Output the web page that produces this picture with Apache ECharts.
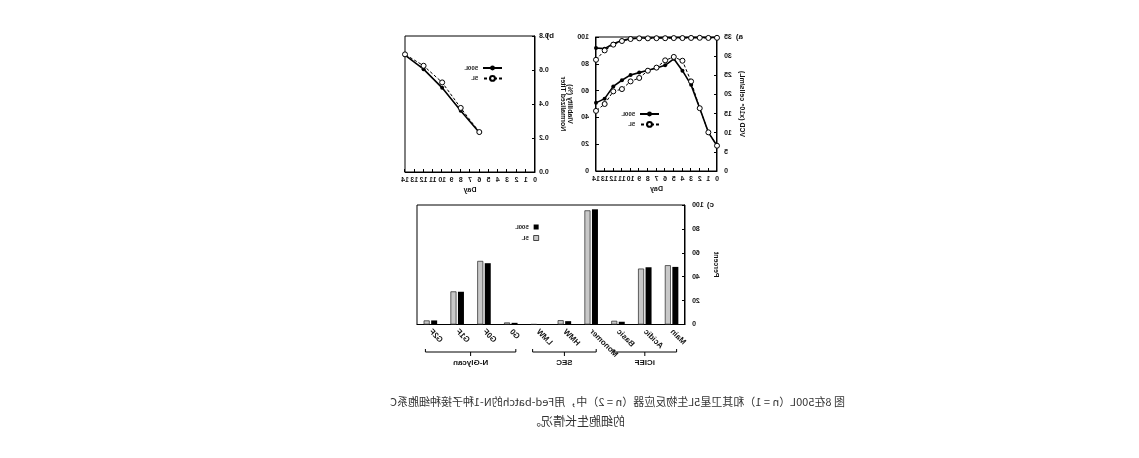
<!DOCTYPE html>
<html>
<head>
<meta charset="utf-8">
<script src="https://cdn.jsdelivr.net/npm/echarts@6/dist/echarts.min.js"></script>
<style>
html, body { margin: 0; padding: 0; background: #fff; }
/* the reference picture is mirrored left-right, so the whole stage is flipped */
#stage { position: relative; width: 1139px; height: 458px; overflow: hidden; transform: scaleX(-1); }
#chart { position: absolute; left: 0; top: 0; width: 1139px; height: 390px; }
.cap {
  position: absolute; white-space: nowrap;
  font-family: "Noto Sans CJK SC", sans-serif; color: #333; line-height: 19px;
}
.cap1 { left: 294px; top: 392px; font-size: 11px; }
.cap2 { left: 514px; top: 411px; font-size: 12px; }
</style>
</head>
<body>
<div id="stage">
  <div id="chart"></div>
  <div class="cap cap1">图 8在500L（n = 1）和其卫星5L生物反应器（n = 2）中，用Fed-batch的N-1种子接种细胞系C</div>
  <div class="cap cap2">的细胞生长情况。</div>
</div>
<script>
// a) 活细胞密度与活率
const days = [0, 1, 2, 3, 4, 5, 6, 7, 8, 9, 10, 11, 12, 13, 14]
const vcd500 = [6.6, 10.1, 16.4, 22.5, 26.2, 29.3, 27.6, 26.9, 26.3, 25.7, 25.1, 23.7, 22.1, 18.9, 17.8]
const vcd5 = [6.6, 10.1, 16.4, 23.4, 28.8, 29.8, 28.9, 27.0, 26.2, 24.3, 23.4, 21.4, 20.8, 17.5, 15.7]
const via500 = [99.7, 99.6, 99.7, 99.6, 99.6, 99.5, 99.5, 99.4, 99.3, 99.2, 98.8, 97.3, 95.0, 91.3, 91.8]
const via5 = [99.4, 99.3, 99.4, 99.3, 99.2, 99.2, 99.1, 99.1, 99.0, 99.0, 98.5, 97.0, 94.3, 90.0, 83.0]

// b) 归一化滴度
const titerDays = [6, 8, 10, 12, 14]
const titer500 = [0.232, 0.36, 0.495, 0.605, 0.688]
const titer5 = [0.235, 0.377, 0.527, 0.625, 0.692]

// c) 质量属性
const categories = ['Main', 'Acidic', 'Basic', 'Monomer', 'HMW', 'LMW', 'G0', 'G0F', 'G1F', 'G2F']
const bar500 = [48.2, 47.9, 2.3, 96.4, 2.8, 0.2, 1.4, 51.3, 27.4, 3.4]
const bar5 = [49.6, 46.8, 3.1, 95.5, 3.6, 0.2, 1.7, 53.2, 27.7, 3.4]
const groups = [
  { name: 'iCIEF', from: 'Main', to: 'Basic' },
  { name: 'SEC', from: 'Monomer', to: 'LMW' },
  { name: 'N-Glycan', from: 'G0', to: 'G2F' }
]

const FONT = '"Liberation Sans", Arial, sans-serif'
const txt = { fontFamily: FONT, fontWeight: 'bold', color: '#111' }

function axisCommon(extra) {
  return Object.assign({
    axisLine: { show: true, onZero: false, lineStyle: { color: '#000', width: 1 } },
    axisTick: { show: true, inside: true, length: 3, lineStyle: { color: '#000' } },
    splitLine: { show: false },
    axisLabel: Object.assign({ fontSize: 7, margin: 7 }, txt),
    nameTextStyle: Object.assign({ fontSize: 7 }, txt),
    nameLocation: 'middle'
  }, extra)
}

function dayAxis(gridIndex) {
  return axisCommon({
    type: 'value', gridIndex, min: 0, max: 14, interval: 1,
    name: 'Day', nameGap: 15,
    axisLabel: Object.assign({ fontSize: 7, margin: 5 }, txt)
  })
}

const solid = (name, data, x, y) => ({
  name, type: 'line', xAxisIndex: x, yAxisIndex: y, data,
  symbol: 'circle', symbolSize: 4,
  itemStyle: { color: '#000' },
  lineStyle: { color: '#000', width: 1.6 }
})
const dashed = (name, data, x, y) => ({
  name, type: 'line', xAxisIndex: x, yAxisIndex: y, data,
  symbol: 'circle', symbolSize: 5,
  itemStyle: { color: '#fff', borderColor: '#000', borderWidth: 1 },
  lineStyle: { color: '#000', width: 1, type: [3, 2] }
})

const legendText = Object.assign({ fontSize: 6 }, txt)

const chart = echarts.init(document.getElementById('chart'))
chart.setOption({
  animation: false,
  grid: [
    { left: 422, top: 37, width: 121, height: 134, show: true, borderColor: '#000', borderWidth: 1 },
    { left: 604, top: 36, width: 130, height: 136, show: true, borderColor: '#000', borderWidth: 1 },
    { left: 454, top: 205, width: 268, height: 119.5, show: true, borderColor: '#000', borderWidth: 1 }
  ],
  xAxis: [
    dayAxis(0),
    dayAxis(1),
    axisCommon({
      type: 'category', gridIndex: 2, data: categories,
      axisTick: { show: false },
      axisLabel: Object.assign({ fontSize: 8, rotate: 45, margin: 6, interval: 0 }, txt)
    })
  ],
  yAxis: [
    axisCommon({ type: 'value', gridIndex: 0, min: 0, max: 35, interval: 5,
      name: 'VCD (x10⁶ cells/mL)', nameGap: 21 }),
    axisCommon({ type: 'value', gridIndex: 0, min: 0, max: 100, interval: 20, position: 'right',
      name: 'Viability (%)', nameGap: 20 }),
    axisCommon({ type: 'value', gridIndex: 1, min: 0, max: 0.8, interval: 0.2,
      name: 'Normalized Titer', nameGap: 24,
      axisLabel: Object.assign({ fontSize: 7, margin: 4, formatter: v => v.toFixed(1) }, txt) }),
    axisCommon({ type: 'value', gridIndex: 2, min: 0, max: 100, interval: 20,
      name: 'Percent', nameGap: 27 })
  ],
  legend: [
    { left: 479, top: 111, padding: 0, orient: 'vertical', itemWidth: 19, itemHeight: 6, itemGap: 4,
      data: ['500L', '5L'], textStyle: legendText, selectedMode: false },
    { left: 636, top: 65, padding: 0, orient: 'vertical', itemWidth: 19, itemHeight: 6, itemGap: 4,
      data: ['500L', '5L'], textStyle: legendText, selectedMode: false },
    { left: 600, top: 224, padding: 0, orient: 'vertical', itemWidth: 5, itemHeight: 5, itemGap: 5,
      selectedMode: false, textStyle: legendText,
      data: [
        { name: '500L', icon: 'rect', itemStyle: { color: '#000', borderWidth: 0 } },
        { name: '5L', icon: 'rect', itemStyle: { color: '#c8c8c8', borderColor: '#000', borderWidth: 0.7 } }
      ] }
  ],
  series: [
    solid('500L', days.map((d, i) => [d, vcd500[i]]), 0, 0),
    dashed('5L', days.map((d, i) => [d, vcd5[i]]), 0, 0),
    solid('500L', days.map((d, i) => [d, via500[i]]), 0, 1),
    dashed('5L', days.map((d, i) => [d, via5[i]]), 0, 1),
    solid('500L', titerDays.map((d, i) => [d, titer500[i]]), 1, 2),
    dashed('5L', titerDays.map((d, i) => [d, titer5[i]]), 1, 2),
    {
      name: '500L', type: 'bar', xAxisIndex: 2, yAxisIndex: 3, data: bar500,
      barWidth: 6, barGap: '25%',
      itemStyle: { color: '#000' }
    },
    {
      name: '5L', type: 'bar', xAxisIndex: 2, yAxisIndex: 3, data: bar5,
      barWidth: 6, barGap: '25%',
      itemStyle: { color: '#c8c8c8', borderColor: '#222', borderWidth: 0.7 }
    }
  ]
})

// 面板标签与分组括号
const px = c => chart.convertToPixel({ xAxisIndex: 2 }, c)
const lineStyle = { stroke: '#000', lineWidth: 1, fill: null }
const label = (text, left, top) => ({ type: 'text', left, top,
  style: { text, fontSize: 8, fill: '#111', fontFamily: FONT, fontWeight: 'bold' } })
const graphics = [label('a)', 396, 33), label('b)', 585, 32), label('c)', 425, 201)]
groups.forEach(g => {
  const x1 = px(g.from) - 5
  const x2 = px(g.to) + 5
  const xc = (x1 + x2) / 2
  graphics.push({ type: 'polyline', shape: { points: [[x1, 349], [x1, 352], [x2, 352], [x2, 349]] }, style: lineStyle })
  graphics.push({ type: 'line', shape: { x1: xc, y1: 352, x2: xc, y2: 356 }, style: lineStyle })
  graphics.push({ type: 'text', x: xc, y: 359, style: {
    text: g.name, fontSize: 8, fill: '#111', fontFamily: FONT, fontWeight: 'bold',
    align: 'center', verticalAlign: 'top' } })
})
chart.setOption({ graphic: graphics })
</script>
</body>
</html>
